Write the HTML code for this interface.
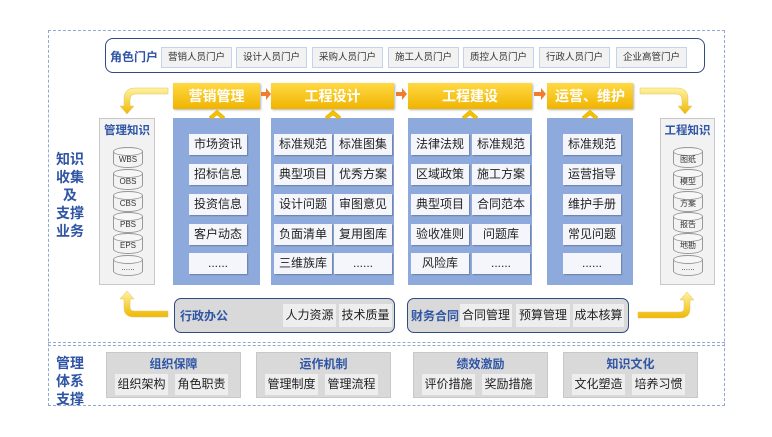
<!DOCTYPE html>
<html><head><meta charset="utf-8"><style>
body{margin:0;width:772px;height:437px;background:#fff;position:relative;overflow:hidden;font-family:"Liberation Sans","Noto Sans CJK SC",sans-serif;}
.a{position:absolute;box-sizing:border-box;}
.ib{position:absolute;box-sizing:border-box;background:#f4f6fb;font-size:12px;color:#222;text-align:center;line-height:21px;height:21px;box-shadow:1px 1px 1px rgba(0,0,0,.25);}
.pb{position:absolute;box-sizing:border-box;background:#f2f2f2;border:1px solid #c5d3ea;font-size:9.5px;color:#333;text-align:center;line-height:19px;height:21px;}
.hd{position:absolute;box-sizing:border-box;height:26px;top:83px;background:linear-gradient(#ffd944,#f0b400);color:#fff;font-weight:bold;font-size:14px;text-align:center;line-height:26px;box-shadow:1px 1px 2px rgba(0,0,0,.3);}
.pn{position:absolute;box-sizing:border-box;background:#8ea9db;top:118px;height:167px;}
.gi{position:absolute;box-sizing:border-box;background:#eeeeee;font-size:12px;color:#222;text-align:center;line-height:22px;height:23px;}
.blue{color:#2f55a4;font-weight:bold;}
.cyl{position:absolute;left:13px;width:30px;height:21px;box-sizing:border-box;border:1px solid #999;border-radius:15px/5px;background:#f3f3f3;font-size:8px;text-align:center;line-height:24px;color:#333;}
.cyl::before{content:"";position:absolute;left:-1px;top:-1px;width:30px;height:9px;box-sizing:border-box;border:1px solid #999;border-radius:50%;background:#f7f7f7;}
.cyl span{position:relative;}
.mg{position:absolute;box-sizing:border-box;background:#d9d9d9;border:1px solid #c8c8c8;top:352px;height:46px;width:135px;}
.mg .t{position:absolute;left:0;right:0;top:2px;text-align:center;font-size:12px;}
.mg .gi{top:21px;width:53px;height:21px;line-height:21px;}
</style></head><body>
<div class="a" style="left:48px;top:30px;width:677px;height:376px;border:1px dashed #8fa9cf;"></div>
<div class="a" style="left:48px;top:342px;width:677px;height:4px;border-top:1px dashed #8fa9cf;border-bottom:1px dashed #8fa9cf;"></div>

<div class="a blue" style="left:56px;top:150px;width:28px;font-size:14px;line-height:18px;text-align:center;">知识<br>收集<br>及<br>支撑<br>业务</div>
<div class="a blue" style="left:56px;top:354px;width:28px;font-size:14px;line-height:18px;text-align:center;">管理<br>体系<br>支撑</div>

<div class="a" style="left:105px;top:38px;width:600px;height:35px;border:1.5px solid #2f4a85;border-radius:8px;"></div>
<div class="a blue" style="left:110px;top:48px;font-size:12px;">角色门户</div>
<div class="pb" style="left:161px;top:47px;width:71px;">营销人员门户</div>
<div class="pb" style="left:236px;top:47px;width:71px;">设计人员门户</div>
<div class="pb" style="left:312px;top:47px;width:71px;">采购人员门户</div>
<div class="pb" style="left:388px;top:47px;width:71px;">施工人员门户</div>
<div class="pb" style="left:463px;top:47px;width:71px;">质控人员门户</div>
<div class="pb" style="left:539px;top:47px;width:71px;">行政人员门户</div>
<div class="pb" style="left:616px;top:47px;width:71px;">企业高管门户</div>

<div class="pn" style="left:173px;width:87px;"></div>
<div class="pn" style="left:271px;width:123px;"></div>
<div class="pn" style="left:408px;width:124px;"></div>
<div class="pn" style="left:547px;width:86px;"></div>

<div class="hd" style="left:173px;width:87px;">营销管理</div>
<div class="hd" style="left:271px;width:123px;">工程设计</div>
<div class="hd" style="left:408px;width:124px;">工程建设</div>
<div class="hd" style="left:547px;width:86px;">运营、维护</div>

<svg class="a" style="left:0;top:0" width="772" height="437">
<defs><linearGradient id="yg" x1="0" y1="0" x2="0" y2="1"><stop offset="0" stop-color="#fff3a0"/><stop offset="1" stop-color="#f0b800"/></linearGradient></defs>
<g fill="#f07c30"><path d="M261,92h5v-4l5,6-5,6v-4h-5z"/><path d="M396,92h6v-4l5,6-5,6v-4h-6z"/><path d="M534,92h7v-4l5,6-5,6v-4h-7z"/></g>
<g fill="#f5c000" stroke="#d9a300" stroke-width="0.5">
<path d="M209,117l8,-7l8,7l-3,2l-5,-4l-5,4z"/><path d="M325,117l8,-7l8,7l-3,2l-5,-4l-5,4z"/>
<path d="M462,117l8,-7l8,7l-3,2l-5,-4l-5,4z"/><path d="M582,117l8,-7l8,7l-3,2l-5,-4l-5,4z"/></g>
<path d="M168,88v6h-32q-6,0-6,6v6h4l-7,8l-7,-8h4v-7q0,-11,11,-11z" fill="url(#yg)" stroke="#e0c070" stroke-width="0.5"/>
<path d="M640,88v6h36q6,0 6,6v6h-4l7,8l7,-8h-4v-7q0,-11,-11,-11z" fill="url(#yg)" stroke="#e0c070" stroke-width="0.5"/>
<path d="M168,317v-6h-34q-4,0-4,-4v-8h4l-7,-8l-7,8h4v9q0,9,10,9z" fill="url(#yg)" stroke="#e0c070" stroke-width="0.5"/>
<path d="M638,318v-6h42q4,0 4,-4v-8h-4l7,-8l7,8h-4v9q0,9,-10,9z" fill="url(#yg)" stroke="#e0c070" stroke-width="0.5"/>
</svg>

<div class="ib" style="left:189px;top:134px;width:58px;">市场资讯</div>
<div class="ib" style="left:189px;top:164px;width:58px;">招标信息</div>
<div class="ib" style="left:189px;top:194px;width:58px;">投资信息</div>
<div class="ib" style="left:189px;top:224px;width:58px;">客户动态</div>
<div class="ib" style="left:189px;top:253px;width:58px;">......</div>

<div class="ib" style="left:274px;top:134px;width:58px;">标准规范</div><div class="ib" style="left:334px;top:134px;width:58px;">标准图集</div>
<div class="ib" style="left:274px;top:164px;width:58px;">典型项目</div><div class="ib" style="left:334px;top:164px;width:58px;">优秀方案</div>
<div class="ib" style="left:274px;top:194px;width:58px;">设计问题</div><div class="ib" style="left:334px;top:194px;width:58px;">审图意见</div>
<div class="ib" style="left:274px;top:224px;width:58px;">负面清单</div><div class="ib" style="left:334px;top:224px;width:58px;">复用图库</div>
<div class="ib" style="left:274px;top:253px;width:58px;">三维族库</div><div class="ib" style="left:334px;top:253px;width:58px;">......</div>

<div class="ib" style="left:411px;top:134px;width:58px;">法律法规</div><div class="ib" style="left:472px;top:134px;width:58px;">标准规范</div>
<div class="ib" style="left:411px;top:164px;width:58px;">区域政策</div><div class="ib" style="left:472px;top:164px;width:58px;">施工方案</div>
<div class="ib" style="left:411px;top:194px;width:58px;">典型项目</div><div class="ib" style="left:472px;top:194px;width:58px;">合同范本</div>
<div class="ib" style="left:411px;top:224px;width:58px;">验收准则</div><div class="ib" style="left:472px;top:224px;width:58px;">问题库</div>
<div class="ib" style="left:411px;top:253px;width:58px;">风险库</div><div class="ib" style="left:472px;top:253px;width:58px;">......</div>

<div class="ib" style="left:563px;top:134px;width:58px;">标准规范</div>
<div class="ib" style="left:563px;top:164px;width:58px;">运营指导</div>
<div class="ib" style="left:563px;top:194px;width:58px;">维护手册</div>
<div class="ib" style="left:563px;top:224px;width:58px;">常见问题</div>
<div class="ib" style="left:563px;top:253px;width:58px;">......</div>

<div class="a" style="left:99px;top:118px;width:56px;height:167px;background:#f2f2f2;border:1px solid #c8c8c8;">
<div class="blue" style="position:absolute;left:0;right:0;top:3px;text-align:center;font-size:11.5px;">管理知识</div>
<div class="cyl" style="top:28px;"><span>WBS</span></div><div class="cyl" style="top:50px;"><span>OBS</span></div><div class="cyl" style="top:72px;"><span>CBS</span></div><div class="cyl" style="top:93px;"><span>PBS</span></div><div class="cyl" style="top:114px;"><span>EPS</span></div><div class="cyl" style="top:136px;"><span>......</span></div>
</div>
<div class="a" style="left:660px;top:118px;width:55px;height:167px;background:#f2f2f2;border:1px solid #c8c8c8;">
<div class="blue" style="position:absolute;left:0;right:0;top:3px;text-align:center;font-size:11.5px;">工程知识</div>
<div class="cyl" style="left:12px;top:28px;"><span>图纸</span></div><div class="cyl" style="left:12px;top:50px;"><span>模型</span></div><div class="cyl" style="left:12px;top:72px;"><span>方案</span></div><div class="cyl" style="left:12px;top:93px;"><span>报告</span></div><div class="cyl" style="left:12px;top:114px;"><span>地勘</span></div><div class="cyl" style="left:12px;top:136px;"><span>......</span></div>
</div>

<div class="a" style="left:174px;top:298px;width:221px;height:35px;background:#d9d9d9;border:1.5px solid #2f4a85;border-radius:7px;"></div>
<div class="a blue" style="left:180px;top:307px;font-size:12px;">行政办公</div>
<div class="gi" style="left:283px;top:304px;width:53px;">人力资源</div>
<div class="gi" style="left:339px;top:304px;width:53px;">技术质量</div>

<div class="a" style="left:407px;top:298px;width:222px;height:35px;background:#d9d9d9;border:1.5px solid #2f4a85;border-radius:7px;"></div>
<div class="a blue" style="left:411px;top:307px;font-size:12px;">财务合同</div>
<div class="gi" style="left:460px;top:304px;width:52px;">合同管理</div>
<div class="gi" style="left:516px;top:304px;width:54px;">预算管理</div>
<div class="gi" style="left:573px;top:304px;width:51px;">成本核算</div>

<div class="mg" style="left:106px;"><div class="t blue">组织保障</div><div class="gi" style="left:8px;">组织架构</div><div class="gi" style="left:68px;">角色职责</div></div>
<div class="mg" style="left:256px;"><div class="t blue">运作机制</div><div class="gi" style="left:8px;">管理制度</div><div class="gi" style="left:68px;">管理流程</div></div>
<div class="mg" style="left:413px;"><div class="t blue">绩效激励</div><div class="gi" style="left:8px;">评价措施</div><div class="gi" style="left:68px;">奖励措施</div></div>
<div class="mg" style="left:563px;"><div class="t blue">知识文化</div><div class="gi" style="left:8px;">文化塑造</div><div class="gi" style="left:68px;">培养习惯</div></div>
</body></html>
